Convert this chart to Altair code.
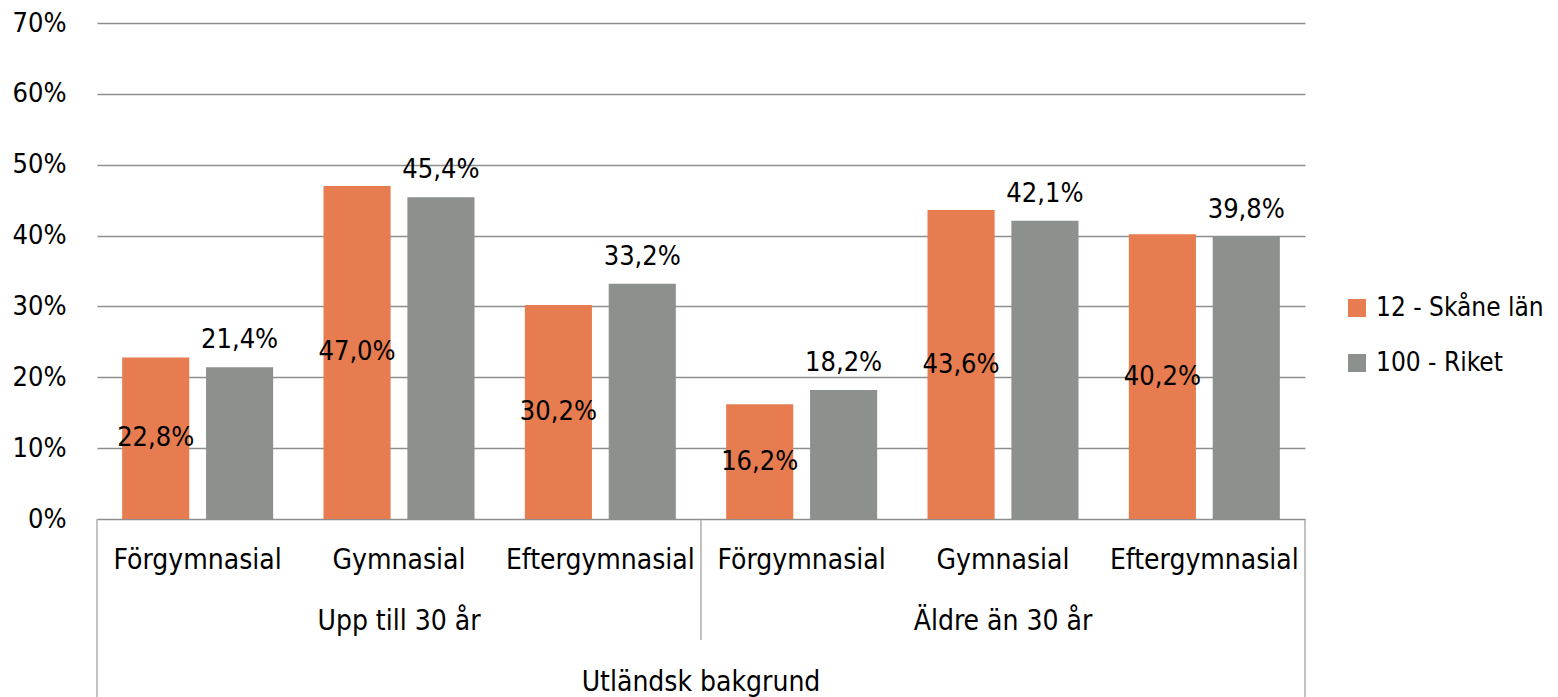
import altair as alt
import pandas as pd

groups = ["Upp till 30 år", "Äldre än 30 år"]
levels = ["Förgymnasial", "Gymnasial", "Eftergymnasial"]
series = ["12 - Skåne län", "100 - Riket"]
skane = [22.8, 47.0, 30.2, 16.2, 43.6, 40.2]
riket = [21.4, 45.4, 33.2, 18.2, 42.1, 39.8]
y_ticks = [0, 10, 20, 30, 40, 50, 60, 70]
outer_label = "Utländsk bakgrund"
colors = ["#E67C4F", "#8C918E"]

FONT = "Liberation Sans Narrow, DejaVu Sans Condensed, Liberation Sans, sans-serif"
FS_AX = 28
FS_Y = 27
FS_LAB = 27
FS_LEG = 26

keys = [f"{g}|{l}" for g in groups for l in levels]
rows = []
for i, k in enumerate(keys):
    for s, vals in zip(series, [skane, riket]):
        rows.append({"key": k, "series": s, "v": vals[i] / 100})
df = pd.DataFrame(rows)
cat_df = pd.DataFrame({"key": keys, "cat": [l for g in groups for l in levels]})
grp_df = pd.DataFrame({"key": [f"{g}|{levels[1]}" for g in groups], "grp": groups})

W, H = 1208, 496

X = alt.X("key:N", sort=keys, scale=alt.Scale(paddingInner=0, paddingOuter=0), axis=None)
XO = alt.XOffset("series:N", sort=series, scale=alt.Scale(paddingInner=0.2, paddingOuter=0.3))
yscale = alt.Scale(domain=[0, 0.7], nice=False)

base = alt.Chart(df).transform_calculate(
    lab="replace(format(datum.v, '.1%'), '.', ',')",
    mid="datum.v / 2",
)

bars = base.mark_bar().encode(
    x=X,
    xOffset=XO,
    y=alt.Y("v:Q", scale=yscale, title=None,
            axis=alt.Axis(values=[t / 100 for t in y_ticks], format=".0%", grid=True,
                          gridColor="#8E8E8E", gridWidth=1.3, domain=False, ticks=False,
                          labelPadding=31, labelFontSize=FS_Y, labelFont=FONT, labelColor="#000")),
    color=alt.Color("series:N", sort=series, scale=alt.Scale(domain=series, range=colors),
                    legend=alt.Legend(orient="none", legendX=1247, legendY=272, title=None,
                                      symbolType="square", symbolSize=324, symbolStrokeWidth=0,
                                      labelFontSize=FS_LEG, labelFont=FONT, labelColor="#000",
                                      rowPadding=29, labelOffset=6, padding=0, labelLimit=400)),
)

lab_in = base.transform_filter(alt.datum.series == series[0]).mark_text(
    font=FONT, fontSize=FS_LAB, color="#000", baseline="middle"
).encode(x=X, xOffset=XO, y=alt.Y("mid:Q", scale=yscale, title=None), text="lab:N")

lab_out = base.transform_filter(alt.datum.series == series[1]).mark_text(
    font=FONT, fontSize=FS_LAB, color="#000", baseline="alphabetic", dy=-19
).encode(x=X, xOffset=XO, y=alt.Y("v:Q", scale=yscale, title=None), text="lab:N")

cat_text = alt.Chart(cat_df).mark_text(font=FONT, fontSize=FS_AX, color="#000", baseline="middle").encode(
    x=X, y=alt.value(538), text="cat:N")

grp_text = alt.Chart(grp_df).mark_text(font=FONT, fontSize=FS_AX, color="#000", baseline="middle").encode(
    x=X, y=alt.value(599), text="grp:N")

outer_text = alt.Chart(pd.DataFrame({"t": [outer_label]})).mark_text(
    font=FONT, fontSize=FS_AX, color="#000", baseline="middle").encode(
    x=alt.value(W / 2), y=alt.value(660), text="t:N")

sep_color = "#9A9A9A"
sep_left = alt.Chart(pd.DataFrame({"a": [0]})).mark_rule(color=sep_color, strokeWidth=1.2).encode(
    x=alt.value(0), y=alt.value(H), y2=alt.value(H + 180))
sep_mid = alt.Chart(pd.DataFrame({"a": [0]})).mark_rule(color=sep_color, strokeWidth=1.2).encode(
    x=alt.value(W / 2), y=alt.value(H), y2=alt.value(617))
sep_right = alt.Chart(pd.DataFrame({"a": [0]})).mark_rule(color=sep_color, strokeWidth=1.2).encode(
    x=alt.value(W), y=alt.value(H), y2=alt.value(H + 180))

chart = alt.layer(
    bars, lab_in, lab_out, cat_text, grp_text, outer_text, sep_left, sep_mid, sep_right
).properties(
    width=W, height=H,
    autosize=alt.AutoSizeParams(type="none"),
    padding={"left": 89, "top": 15, "right": 245, "bottom": 178},
).configure(background="white").configure_view(stroke=None)

chart.save("out.html", embed_options={"renderer": "svg", "actions": False})
